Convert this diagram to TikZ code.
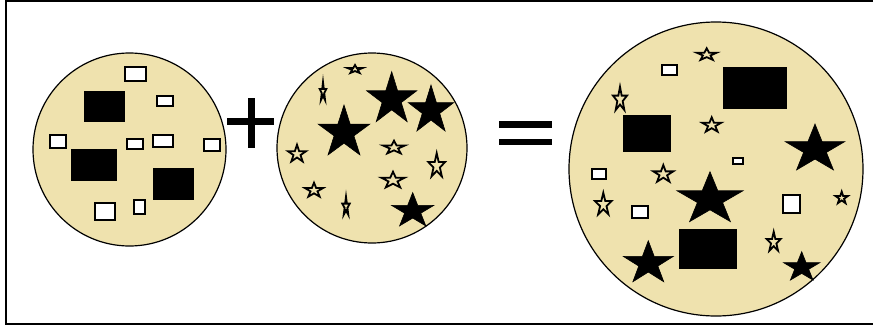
\documentclass[tikz,border=0pt]{standalone}
\usetikzlibrary{calc}
\definecolor{dough}{RGB}{239,226,174}
\tikzset{
  cookie/.style={fill=dough,draw=black,line width=1.2pt},
  wrect/.style={fill=white,draw=black,line width=1.7pt},
  brect/.style={fill=black,draw=black},
  bstar/.style={fill=black,draw=black,line width=0.6pt},
  ostar/.style={draw=black,line width=1.8pt,line join=miter},
  sign/.style={fill=black},
}
\newcommand\mystar[5]{%
  \path[#5,shift={(#1,#2)},xscale=#3,yscale=-#4]
    (90:1) -- (126:.382) -- (162:1) -- (198:.382) -- (234:1) -- (270:.382)
    -- (306:1) -- (342:.382) -- (18:1) -- (54:.382) -- cycle;}
\begin{document}
\begin{tikzpicture}[x=1pt,y=-1pt]
\useasboundingbox (0,0) rectangle (873,332);
% frame
\draw[line width=2pt] (880,1) -- (6,1) -- (6,324) -- (880,324);

% ---- cookie 1: rectangles
\draw[cookie] (129.5,149.5) circle (96.5);
\path[brect] (84,91) rectangle (124,121);
\path[brect] (71,149) rectangle (116,180);
\path[brect] (153,168) rectangle (193,199);
\path[wrect] (125,67) rectangle (146,81);
\path[wrect] (157,96) rectangle (173,106);
\path[wrect] (50,135) rectangle (66,148);
\path[wrect] (127,139) rectangle (143,149);
\path[wrect] (153,135) rectangle (173,147);
\path[wrect] (204,139) rectangle (220,151);
\path[wrect] (95,203) rectangle (115,220);
\path[wrect] (134,200) rectangle (145,214);

% plus
\path[sign] (227,118) rectangle (274,125);
\path[sign] (248,98) rectangle (255,148);

% ---- cookie 2: stars
\draw[cookie] (372,148) circle (95);
\mystar{344}{132.6}{27.2}{27.6}{bstar}
\mystar{391.7}{99.3}{26.3}{27.6}{bstar}
\mystar{431}{110.4}{24}{25.4}{bstar}
\mystar{412.7}{211}{22.3}{18.4}{bstar}
\mystar{355}{69.4}{7.9}{4.4}{ostar}
\mystar{323}{92}{3.5}{10}{ostar}
\mystar{297}{154}{9.6}{9.2}{ostar}
\mystar{394}{147.7}{11.4}{7}{ostar}
\mystar{436.7}{166}{8.8}{12.9}{ostar}
\mystar{393}{180.4}{12.3}{8.7}{ostar}
\mystar{314}{190.4}{9.6}{7.7}{ostar}
\mystar{346}{206.7}{3.9}{10}{ostar}

% equals
\path[sign] (499,121) rectangle (552,128);
\path[sign] (499,139) rectangle (552,145);

% ---- cookie 3: mixture
\draw[cookie] (716,169) circle (147);
\path[brect] (723,67) rectangle (786,108);
\path[brect] (623,115) rectangle (670,151);
\path[brect] (679,229) rectangle (736,268);
\path[wrect] (662,65) rectangle (677,75);
\path[wrect] (592,169) rectangle (606,179);
\path[wrect] (632,206) rectangle (648,218);
\path[wrect] (733,158) rectangle (743,164);
\path[wrect] (783,195) rectangle (800,213);
\mystar{815}{149.4}{31.4}{25.4}{bstar}
\mystar{710}{199.3}{34.7}{27.6}{bstar}
\mystar{648.3}{263.4}{26.3}{22.7}{bstar}
\mystar{801.7}{267.4}{19.3}{15.7}{bstar}
\mystar{706.7}{54.7}{10.5}{6.4}{ostar}
\mystar{620}{99.6}{7.4}{12.9}{ostar}
\mystar{711.7}{125.2}{10}{7.9}{ostar}
\mystar{663.3}{174.2}{10.5}{9.2}{ostar}
\mystar{603.3}{204.7}{8.8}{12}{ostar}
\mystar{841.7}{198}{6.5}{6.4}{ostar}
\mystar{773.7}{242.2}{7.4}{10.5}{ostar}
\end{tikzpicture}
\end{document}
